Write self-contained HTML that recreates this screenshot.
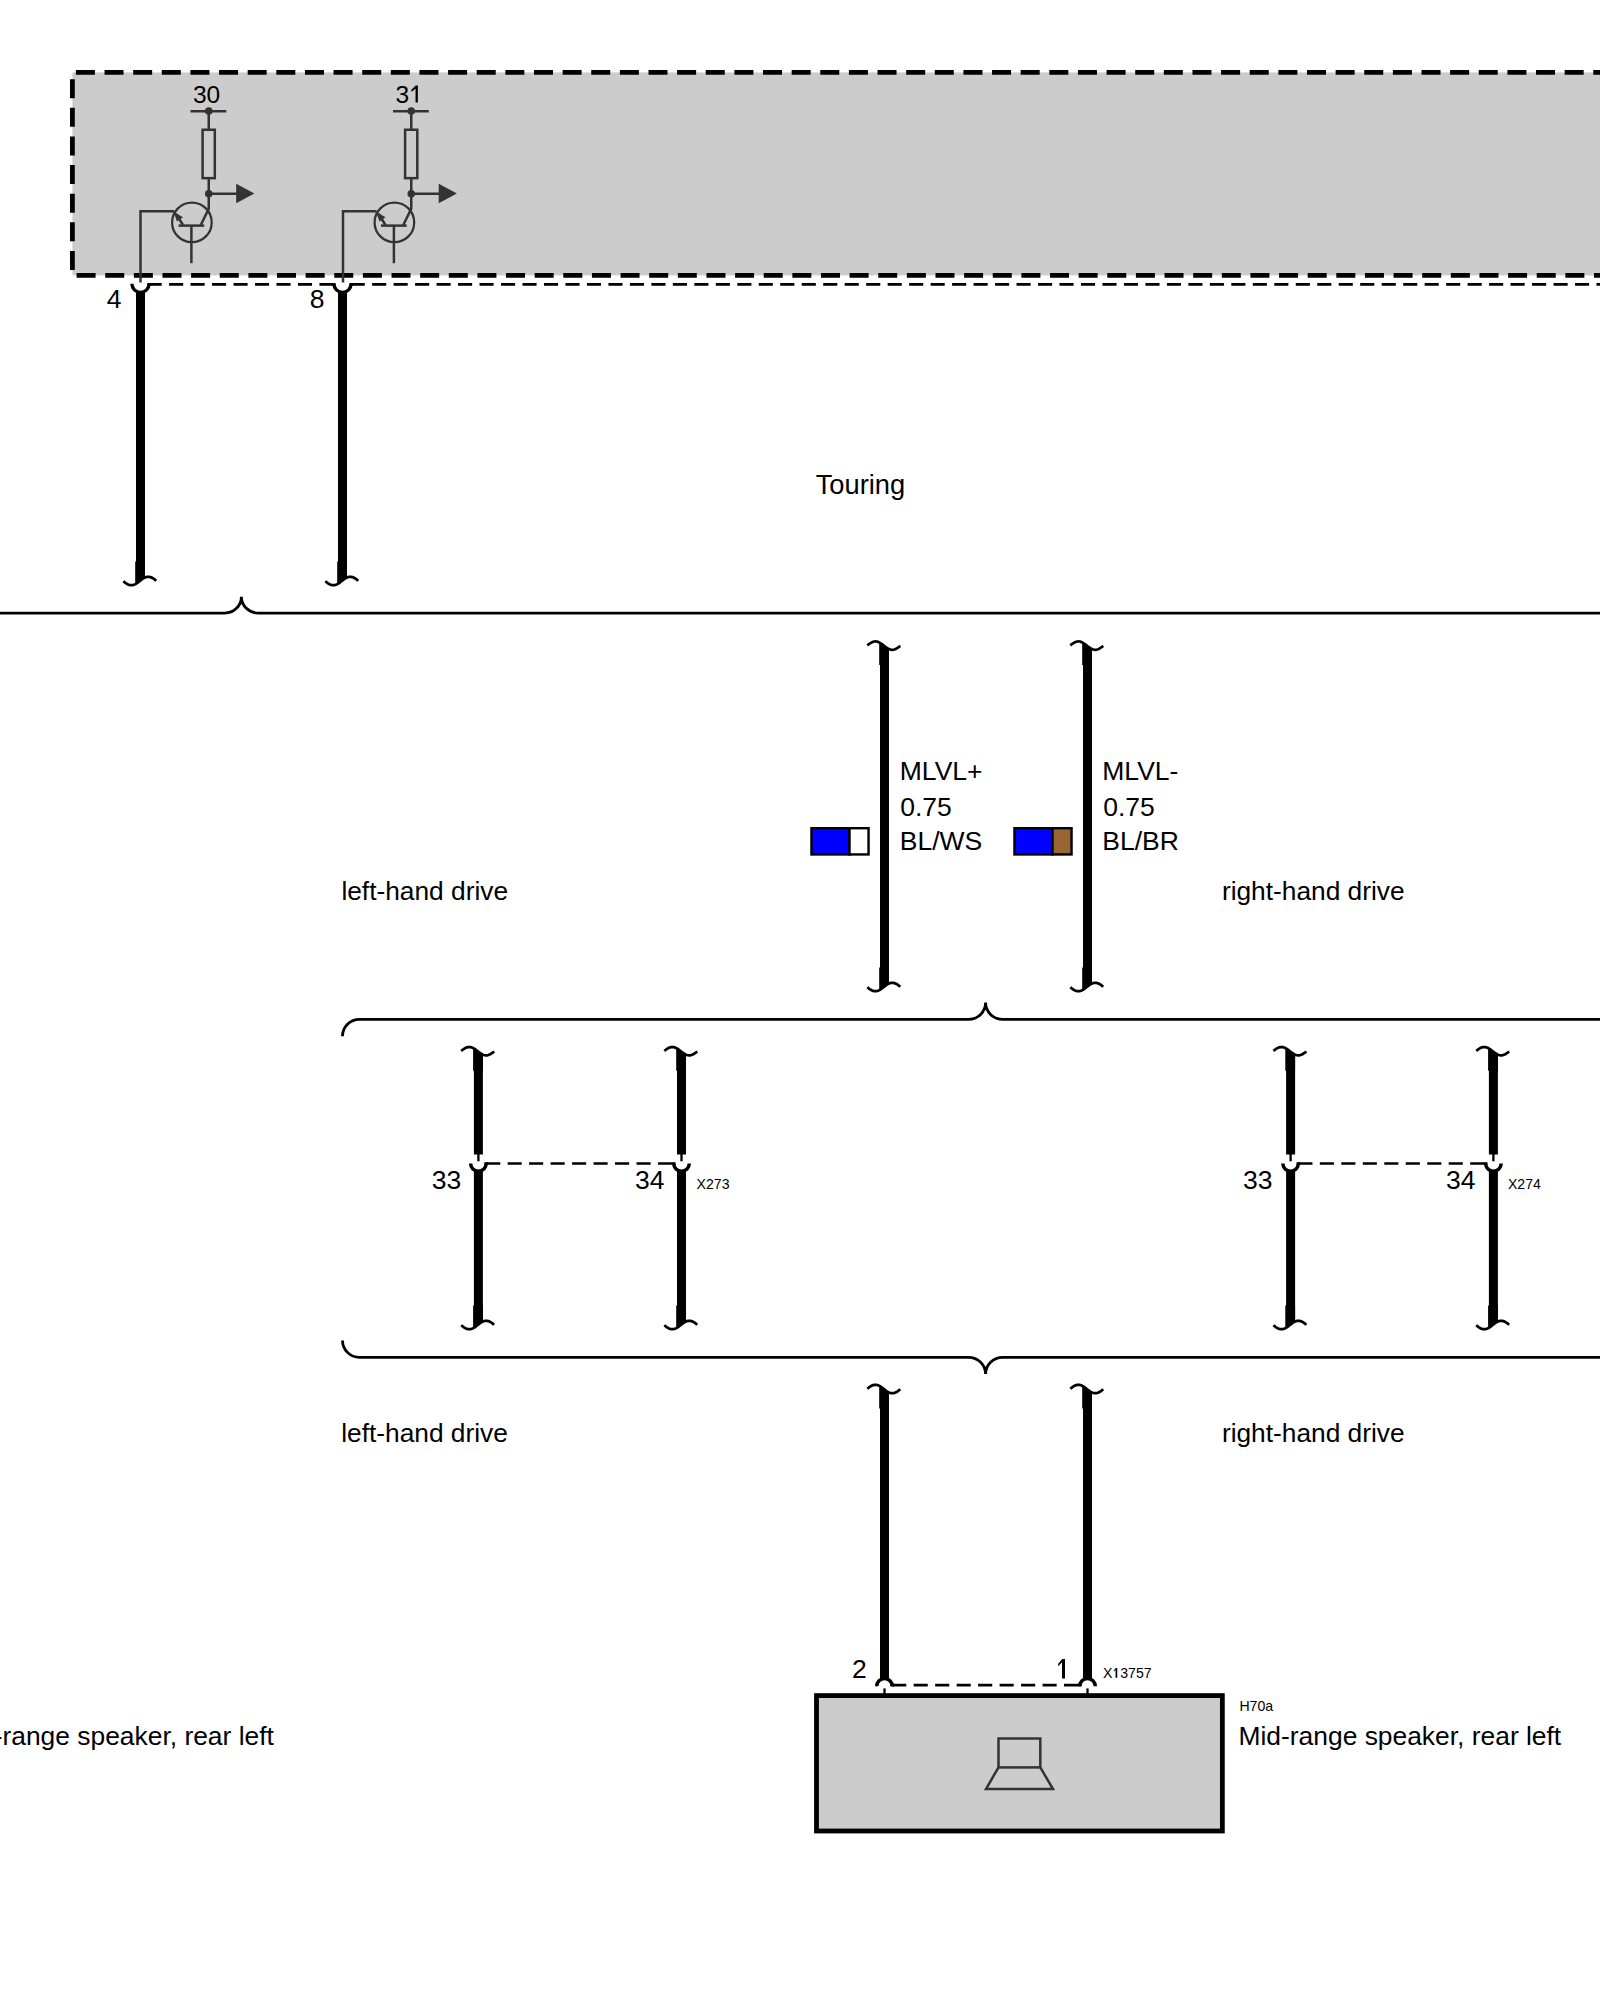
<!DOCTYPE html>
<html><head><meta charset="utf-8"><title>wiring</title>
<style>html,body{margin:0;padding:0;background:#fff;overflow:hidden}svg{display:block}text{font-family:"Liberation Sans",sans-serif;fill:#000}</style></head><body>
<svg width="1600" height="2000" viewBox="0 0 1600 2000">
<rect x="0" y="0" width="1600" height="2000" fill="#fff"/>
<rect x="72.4" y="72.4" width="1600" height="203" fill="#cccccc"/>
<g stroke="#000" stroke-width="4.8" fill="none" stroke-dasharray="19 9.63">
<path d="M72.4,72.4 H1620" stroke-dashoffset="-3.5"/>
<path d="M72.4,275.4 H1620" stroke-dashoffset="-4.2"/>
<path d="M72.4,72.4 V275.4" stroke-dashoffset="-6.8"/>
</g>
<g transform="translate(0,0)">
<text x="192.9" y="102.8" font-size="24.5">30</text>
<g stroke="#333" stroke-width="2.5" fill="none">
<path d="M190.5,111.3 H226.3"/>
<path d="M208.75,111.3 V129.75 M208.75,178.15 V208.7 L200.8,225"/>
<rect x="202.6" y="129.75" width="12.2" height="48.4"/>
<path d="M208.75,193.75 H238"/>
<circle cx="191.9" cy="222.4" r="19.8" stroke-width="2.25"/>
<path d="M178.5,225.6 H204.2"/>
<path d="M191.4,225.6 V263.2"/>
<path d="M183,225 L176,214"/>
<path d="M174,211.3 H140.5 V282.5"/>
</g>
<g fill="#333">
<rect x="178.5" y="111.3" width="0" height="0"/>
<circle cx="208.75" cy="111.1" r="3.8"/>
<circle cx="208.75" cy="193.75" r="3.8"/>
<path d="M236.2,183.8 L254.4,193.6 L236.2,203.2 Z"/>
<path d="M173.6,211.8 L183,217.3 L177,221.4 Z"/>
</g></g>
<g transform="translate(202.5,0)">
<text x="192.9" y="102.8" font-size="24.5">3</text>
<path d="M215.35,85.60 L215.35,102.60 L213.05,102.60 L213.05,88.49 L208.90,91.89 L208.90,89.68 L213.25,85.60 Z" fill="#000"/>
<g stroke="#333" stroke-width="2.5" fill="none">
<path d="M190.5,111.3 H226.3"/>
<path d="M208.75,111.3 V129.75 M208.75,178.15 V208.7 L200.8,225"/>
<rect x="202.6" y="129.75" width="12.2" height="48.4"/>
<path d="M208.75,193.75 H238"/>
<circle cx="191.9" cy="222.4" r="19.8" stroke-width="2.25"/>
<path d="M178.5,225.6 H204.2"/>
<path d="M191.4,225.6 V263.2"/>
<path d="M183,225 L176,214"/>
<path d="M174,211.3 H140.5 V282.5"/>
</g>
<g fill="#333">
<rect x="178.5" y="111.3" width="0" height="0"/>
<circle cx="208.75" cy="111.1" r="3.8"/>
<circle cx="208.75" cy="193.75" r="3.8"/>
<path d="M236.2,183.8 L254.4,193.6 L236.2,203.2 Z"/>
<path d="M173.6,211.8 L183,217.3 L177,221.4 Z"/>
</g></g>
<text x="106.7" y="307.8" font-size="26.5">4</text>
<text x="309.7" y="307.8" font-size="26.5">8</text>
<path d="M131.9,283.8 A8.6,8.6 0 0 0 149.1,283.8" stroke="#000" stroke-width="3.3" fill="none"/><path d="M147.45,284.4 H151.1" stroke="#000" stroke-width="2.6"/>
<path d="M333.9,283.8 A8.6,8.6 0 0 0 351.1,283.8" stroke="#000" stroke-width="3.3" fill="none"/><path d="M349.45000000000005,284.4 H353.1" stroke="#000" stroke-width="2.6"/><path d="M331.9,284.4 H335.54999999999995" stroke="#000" stroke-width="2.6"/>
<g stroke="#000" stroke-width="2.6" fill="none" stroke-dasharray="14.1 7.38">
<path d="M147.6,284.4 H333.9"/>
<path d="M350.65,284.4 H1620"/>
</g>
<path d="M140.5,292 V577" stroke="#000" stroke-width="9" fill="none"/>
<path d="M342.5,292 V577" stroke="#000" stroke-width="9" fill="none"/>
<path d="M123.30,581.27 L124.48,582.18 L125.66,583.03 L126.84,583.78 L128.01,584.40 L129.19,584.86 L130.37,585.13 L131.55,585.20 L132.73,585.07 L133.91,584.74 L135.09,584.23 L136.26,583.57 L137.44,582.79 L138.62,581.92 L139.80,581.00 L140.98,580.08 L142.16,579.21 L143.34,578.43 L144.51,577.77 L145.69,577.26 L146.87,576.93 L148.05,576.80 L149.23,576.87 L150.41,577.14 L151.59,577.60 L152.76,578.22 L153.94,578.97 L155.12,579.82 L156.30,580.73" stroke="#000" stroke-width="2.7" fill="none"/>
<path d="M135.20,561.50 L145.00,561.50 L145.00,577.54 L144.02,578.03 L143.04,578.61 L142.06,579.28 L141.08,580.01 L140.10,580.77 L139.12,581.53 L138.14,582.28 L137.16,582.98 L136.18,583.62 L135.20,584.18 Z" fill="#000"/>
<path d="M325.30,581.27 L326.48,582.18 L327.66,583.03 L328.84,583.78 L330.01,584.40 L331.19,584.86 L332.37,585.13 L333.55,585.20 L334.73,585.07 L335.91,584.74 L337.09,584.23 L338.26,583.57 L339.44,582.79 L340.62,581.92 L341.80,581.00 L342.98,580.08 L344.16,579.21 L345.34,578.43 L346.51,577.77 L347.69,577.26 L348.87,576.93 L350.05,576.80 L351.23,576.87 L352.41,577.14 L353.59,577.60 L354.76,578.22 L355.94,578.97 L357.12,579.82 L358.30,580.73" stroke="#000" stroke-width="2.7" fill="none"/>
<path d="M337.20,561.50 L347.00,561.50 L347.00,577.54 L346.02,578.03 L345.04,578.61 L344.06,579.28 L343.08,580.01 L342.10,580.77 L341.12,581.53 L340.14,582.28 L339.16,582.98 L338.18,583.62 L337.20,584.18 Z" fill="#000"/>
<text x="815.7" y="493.75" font-size="27.3">Touring</text>
<g stroke="#000" stroke-width="2.8" fill="none">
<path d="M-5,613.1 H224.6 A16.8,16.3 0 0 0 241.4,596.8 A16.8,16.3 0 0 0 258.2,613.1 H1620"/>
<path d="M342.5,1036.3 A16.9,17 0 0 1 359.4,1019.3 H968.6 A17,16.8 0 0 0 985.6,1002.5 A17,16.8 0 0 0 1002.6,1019.3 H1620"/>
<path d="M342.5,1340.5 A16.9,16.8 0 0 0 359.4,1357.3 H968.6 A17,16.8 0 0 1 985.6,1374.1 A17,16.8 0 0 1 1002.6,1357.3 H1620"/>
</g>
<path d="M884.5,649.6 V983" stroke="#000" stroke-width="9" fill="none"/>
<path d="M867.30,645.33 L868.48,644.42 L869.66,643.57 L870.84,642.82 L872.01,642.20 L873.19,641.74 L874.37,641.47 L875.55,641.40 L876.73,641.53 L877.91,641.86 L879.09,642.37 L880.26,643.03 L881.44,643.81 L882.62,644.68 L883.80,645.60 L884.98,646.52 L886.16,647.39 L887.34,648.17 L888.51,648.83 L889.69,649.34 L890.87,649.67 L892.05,649.80 L893.23,649.73 L894.41,649.46 L895.59,649.00 L896.76,648.38 L897.94,647.63 L899.12,646.78 L900.30,645.87" stroke="#000" stroke-width="2.7" fill="none"/>
<path d="M879.20,642.42 L880.18,642.98 L881.16,643.62 L882.14,644.32 L883.12,645.07 L884.10,645.83 L885.08,646.59 L886.06,647.32 L887.04,647.99 L888.02,648.57 L889.00,649.06 L889.00,665.10 L879.20,665.10 Z" fill="#000"/>
<path d="M867.30,987.27 L868.48,988.18 L869.66,989.03 L870.84,989.78 L872.01,990.40 L873.19,990.86 L874.37,991.13 L875.55,991.20 L876.73,991.07 L877.91,990.74 L879.09,990.23 L880.26,989.57 L881.44,988.79 L882.62,987.92 L883.80,987.00 L884.98,986.08 L886.16,985.21 L887.34,984.43 L888.51,983.77 L889.69,983.26 L890.87,982.93 L892.05,982.80 L893.23,982.87 L894.41,983.14 L895.59,983.60 L896.76,984.22 L897.94,984.97 L899.12,985.82 L900.30,986.73" stroke="#000" stroke-width="2.7" fill="none"/>
<path d="M879.20,967.50 L889.00,967.50 L889.00,983.54 L888.02,984.03 L887.04,984.61 L886.06,985.28 L885.08,986.01 L884.10,986.77 L883.12,987.53 L882.14,988.28 L881.16,988.98 L880.18,989.62 L879.20,990.18 Z" fill="#000"/>
<path d="M1087.5,649.6 V983" stroke="#000" stroke-width="9" fill="none"/>
<path d="M1070.30,645.33 L1071.48,644.42 L1072.66,643.57 L1073.84,642.82 L1075.01,642.20 L1076.19,641.74 L1077.37,641.47 L1078.55,641.40 L1079.73,641.53 L1080.91,641.86 L1082.09,642.37 L1083.26,643.03 L1084.44,643.81 L1085.62,644.68 L1086.80,645.60 L1087.98,646.52 L1089.16,647.39 L1090.34,648.17 L1091.51,648.83 L1092.69,649.34 L1093.87,649.67 L1095.05,649.80 L1096.23,649.73 L1097.41,649.46 L1098.59,649.00 L1099.76,648.38 L1100.94,647.63 L1102.12,646.78 L1103.30,645.87" stroke="#000" stroke-width="2.7" fill="none"/>
<path d="M1082.20,642.42 L1083.18,642.98 L1084.16,643.62 L1085.14,644.32 L1086.12,645.07 L1087.10,645.83 L1088.08,646.59 L1089.06,647.32 L1090.04,647.99 L1091.02,648.57 L1092.00,649.06 L1092.00,665.10 L1082.20,665.10 Z" fill="#000"/>
<path d="M1070.30,987.27 L1071.48,988.18 L1072.66,989.03 L1073.84,989.78 L1075.01,990.40 L1076.19,990.86 L1077.37,991.13 L1078.55,991.20 L1079.73,991.07 L1080.91,990.74 L1082.09,990.23 L1083.26,989.57 L1084.44,988.79 L1085.62,987.92 L1086.80,987.00 L1087.98,986.08 L1089.16,985.21 L1090.34,984.43 L1091.51,983.77 L1092.69,983.26 L1093.87,982.93 L1095.05,982.80 L1096.23,982.87 L1097.41,983.14 L1098.59,983.60 L1099.76,984.22 L1100.94,984.97 L1102.12,985.82 L1103.30,986.73" stroke="#000" stroke-width="2.7" fill="none"/>
<path d="M1082.20,967.50 L1092.00,967.50 L1092.00,983.54 L1091.02,984.03 L1090.04,984.61 L1089.06,985.28 L1088.08,986.01 L1087.10,986.77 L1086.12,987.53 L1085.14,988.28 L1084.16,988.98 L1083.18,989.62 L1082.20,990.18 Z" fill="#000"/>
<g stroke="#000" stroke-width="2.4">
<rect x="811.45" y="828.2" width="38.05" height="26.25" fill="#0000ff"/>
<rect x="849.5" y="828.2" width="19.05" height="26.25" fill="#ffffff"/>
<rect x="1014.45" y="828.2" width="38.05" height="26.25" fill="#0000ff"/>
<rect x="1052.5" y="828.2" width="19.05" height="26.25" fill="#996633"/>
</g>
<g font-size="26.5">
<text x="899.8" y="780">MLVL+</text><text x="900.2" y="815.6">0.75</text><text x="899.8" y="850">BL/WS</text>
<text x="1102.3" y="780">MLVL-</text><text x="1103.2" y="815.6">0.75</text><text x="1102.3" y="850">BL/BR</text>
</g>
<g font-size="26.3">
<text x="341.4" y="899.9">left-hand drive</text><text x="1221.9" y="900">right-hand drive</text>
<text x="341.2" y="1441.9">left-hand drive</text><text x="1221.9" y="1441.9">right-hand drive</text>
</g>
<path d="M478.4,1055.2 V1154.4" stroke="#000" stroke-width="9" fill="none"/>
<path d="M478.4,1171.4 V1321" stroke="#000" stroke-width="9" fill="none"/>
<path d="M461.20,1050.93 L462.38,1050.02 L463.56,1049.17 L464.74,1048.42 L465.91,1047.80 L467.09,1047.34 L468.27,1047.07 L469.45,1047.00 L470.63,1047.13 L471.81,1047.46 L472.99,1047.97 L474.16,1048.63 L475.34,1049.41 L476.52,1050.28 L477.70,1051.20 L478.88,1052.12 L480.06,1052.99 L481.24,1053.77 L482.41,1054.43 L483.59,1054.94 L484.77,1055.27 L485.95,1055.40 L487.13,1055.33 L488.31,1055.06 L489.49,1054.60 L490.66,1053.98 L491.84,1053.23 L493.02,1052.38 L494.20,1051.47" stroke="#000" stroke-width="2.7" fill="none"/>
<path d="M473.10,1048.02 L474.08,1048.58 L475.06,1049.22 L476.04,1049.92 L477.02,1050.67 L478.00,1051.43 L478.98,1052.19 L479.96,1052.92 L480.94,1053.59 L481.92,1054.17 L482.90,1054.66 L482.90,1070.70 L473.10,1070.70 Z" fill="#000"/>
<path d="M461.20,1325.27 L462.38,1326.18 L463.56,1327.03 L464.74,1327.78 L465.91,1328.40 L467.09,1328.86 L468.27,1329.13 L469.45,1329.20 L470.63,1329.07 L471.81,1328.74 L472.99,1328.23 L474.16,1327.57 L475.34,1326.79 L476.52,1325.92 L477.70,1325.00 L478.88,1324.08 L480.06,1323.21 L481.24,1322.43 L482.41,1321.77 L483.59,1321.26 L484.77,1320.93 L485.95,1320.80 L487.13,1320.87 L488.31,1321.14 L489.49,1321.60 L490.66,1322.22 L491.84,1322.97 L493.02,1323.82 L494.20,1324.73" stroke="#000" stroke-width="2.7" fill="none"/>
<path d="M473.10,1305.50 L482.90,1305.50 L482.90,1321.54 L481.92,1322.03 L480.94,1322.61 L479.96,1323.28 L478.98,1324.01 L478.00,1324.77 L477.02,1325.53 L476.04,1326.28 L475.06,1326.98 L474.08,1327.62 L473.10,1328.18 Z" fill="#000"/>
<path d="M478.4,1154 V1161.3" stroke="#000" stroke-width="2.3"/>
<path d="M470.65,1163.5 A7.75,7.75 0 0 0 486.15,1163.5" stroke="#000" stroke-width="3.5" fill="none"/><path d="M484.4,1163.5 H488.15" stroke="#000" stroke-width="2.6"/>
<path d="M681.5,1055.2 V1154.4" stroke="#000" stroke-width="9" fill="none"/>
<path d="M681.5,1171.4 V1321" stroke="#000" stroke-width="9" fill="none"/>
<path d="M664.30,1050.93 L665.48,1050.02 L666.66,1049.17 L667.84,1048.42 L669.01,1047.80 L670.19,1047.34 L671.37,1047.07 L672.55,1047.00 L673.73,1047.13 L674.91,1047.46 L676.09,1047.97 L677.26,1048.63 L678.44,1049.41 L679.62,1050.28 L680.80,1051.20 L681.98,1052.12 L683.16,1052.99 L684.34,1053.77 L685.51,1054.43 L686.69,1054.94 L687.87,1055.27 L689.05,1055.40 L690.23,1055.33 L691.41,1055.06 L692.59,1054.60 L693.76,1053.98 L694.94,1053.23 L696.12,1052.38 L697.30,1051.47" stroke="#000" stroke-width="2.7" fill="none"/>
<path d="M676.20,1048.02 L677.18,1048.58 L678.16,1049.22 L679.14,1049.92 L680.12,1050.67 L681.10,1051.43 L682.08,1052.19 L683.06,1052.92 L684.04,1053.59 L685.02,1054.17 L686.00,1054.66 L686.00,1070.70 L676.20,1070.70 Z" fill="#000"/>
<path d="M664.30,1325.27 L665.48,1326.18 L666.66,1327.03 L667.84,1327.78 L669.01,1328.40 L670.19,1328.86 L671.37,1329.13 L672.55,1329.20 L673.73,1329.07 L674.91,1328.74 L676.09,1328.23 L677.26,1327.57 L678.44,1326.79 L679.62,1325.92 L680.80,1325.00 L681.98,1324.08 L683.16,1323.21 L684.34,1322.43 L685.51,1321.77 L686.69,1321.26 L687.87,1320.93 L689.05,1320.80 L690.23,1320.87 L691.41,1321.14 L692.59,1321.60 L693.76,1322.22 L694.94,1322.97 L696.12,1323.82 L697.30,1324.73" stroke="#000" stroke-width="2.7" fill="none"/>
<path d="M676.20,1305.50 L686.00,1305.50 L686.00,1321.54 L685.02,1322.03 L684.04,1322.61 L683.06,1323.28 L682.08,1324.01 L681.10,1324.77 L680.12,1325.53 L679.14,1326.28 L678.16,1326.98 L677.18,1327.62 L676.20,1328.18 Z" fill="#000"/>
<path d="M681.5,1154 V1161.3" stroke="#000" stroke-width="2.3"/>
<path d="M673.75,1163.5 A7.75,7.75 0 0 0 689.25,1163.5" stroke="#000" stroke-width="3.5" fill="none"/><path d="M671.75,1163.5 H675.5" stroke="#000" stroke-width="2.6"/>
<path d="M1290.6,1055.2 V1154.4" stroke="#000" stroke-width="9" fill="none"/>
<path d="M1290.6,1171.4 V1321" stroke="#000" stroke-width="9" fill="none"/>
<path d="M1273.40,1050.93 L1274.58,1050.02 L1275.76,1049.17 L1276.94,1048.42 L1278.11,1047.80 L1279.29,1047.34 L1280.47,1047.07 L1281.65,1047.00 L1282.83,1047.13 L1284.01,1047.46 L1285.19,1047.97 L1286.36,1048.63 L1287.54,1049.41 L1288.72,1050.28 L1289.90,1051.20 L1291.08,1052.12 L1292.26,1052.99 L1293.44,1053.77 L1294.61,1054.43 L1295.79,1054.94 L1296.97,1055.27 L1298.15,1055.40 L1299.33,1055.33 L1300.51,1055.06 L1301.69,1054.60 L1302.86,1053.98 L1304.04,1053.23 L1305.22,1052.38 L1306.40,1051.47" stroke="#000" stroke-width="2.7" fill="none"/>
<path d="M1285.30,1048.02 L1286.28,1048.58 L1287.26,1049.22 L1288.24,1049.92 L1289.22,1050.67 L1290.20,1051.43 L1291.18,1052.19 L1292.16,1052.92 L1293.14,1053.59 L1294.12,1054.17 L1295.10,1054.66 L1295.10,1070.70 L1285.30,1070.70 Z" fill="#000"/>
<path d="M1273.40,1325.27 L1274.58,1326.18 L1275.76,1327.03 L1276.94,1327.78 L1278.11,1328.40 L1279.29,1328.86 L1280.47,1329.13 L1281.65,1329.20 L1282.83,1329.07 L1284.01,1328.74 L1285.19,1328.23 L1286.36,1327.57 L1287.54,1326.79 L1288.72,1325.92 L1289.90,1325.00 L1291.08,1324.08 L1292.26,1323.21 L1293.44,1322.43 L1294.61,1321.77 L1295.79,1321.26 L1296.97,1320.93 L1298.15,1320.80 L1299.33,1320.87 L1300.51,1321.14 L1301.69,1321.60 L1302.86,1322.22 L1304.04,1322.97 L1305.22,1323.82 L1306.40,1324.73" stroke="#000" stroke-width="2.7" fill="none"/>
<path d="M1285.30,1305.50 L1295.10,1305.50 L1295.10,1321.54 L1294.12,1322.03 L1293.14,1322.61 L1292.16,1323.28 L1291.18,1324.01 L1290.20,1324.77 L1289.22,1325.53 L1288.24,1326.28 L1287.26,1326.98 L1286.28,1327.62 L1285.30,1328.18 Z" fill="#000"/>
<path d="M1290.6,1154 V1161.3" stroke="#000" stroke-width="2.3"/>
<path d="M1282.85,1163.5 A7.75,7.75 0 0 0 1298.35,1163.5" stroke="#000" stroke-width="3.5" fill="none"/><path d="M1296.6,1163.5 H1300.35" stroke="#000" stroke-width="2.6"/>
<path d="M1493.4,1055.2 V1154.4" stroke="#000" stroke-width="9" fill="none"/>
<path d="M1493.4,1171.4 V1321" stroke="#000" stroke-width="9" fill="none"/>
<path d="M1476.20,1050.93 L1477.38,1050.02 L1478.56,1049.17 L1479.74,1048.42 L1480.91,1047.80 L1482.09,1047.34 L1483.27,1047.07 L1484.45,1047.00 L1485.63,1047.13 L1486.81,1047.46 L1487.99,1047.97 L1489.16,1048.63 L1490.34,1049.41 L1491.52,1050.28 L1492.70,1051.20 L1493.88,1052.12 L1495.06,1052.99 L1496.24,1053.77 L1497.41,1054.43 L1498.59,1054.94 L1499.77,1055.27 L1500.95,1055.40 L1502.13,1055.33 L1503.31,1055.06 L1504.49,1054.60 L1505.66,1053.98 L1506.84,1053.23 L1508.02,1052.38 L1509.20,1051.47" stroke="#000" stroke-width="2.7" fill="none"/>
<path d="M1488.10,1048.02 L1489.08,1048.58 L1490.06,1049.22 L1491.04,1049.92 L1492.02,1050.67 L1493.00,1051.43 L1493.98,1052.19 L1494.96,1052.92 L1495.94,1053.59 L1496.92,1054.17 L1497.90,1054.66 L1497.90,1070.70 L1488.10,1070.70 Z" fill="#000"/>
<path d="M1476.20,1325.27 L1477.38,1326.18 L1478.56,1327.03 L1479.74,1327.78 L1480.91,1328.40 L1482.09,1328.86 L1483.27,1329.13 L1484.45,1329.20 L1485.63,1329.07 L1486.81,1328.74 L1487.99,1328.23 L1489.16,1327.57 L1490.34,1326.79 L1491.52,1325.92 L1492.70,1325.00 L1493.88,1324.08 L1495.06,1323.21 L1496.24,1322.43 L1497.41,1321.77 L1498.59,1321.26 L1499.77,1320.93 L1500.95,1320.80 L1502.13,1320.87 L1503.31,1321.14 L1504.49,1321.60 L1505.66,1322.22 L1506.84,1322.97 L1508.02,1323.82 L1509.20,1324.73" stroke="#000" stroke-width="2.7" fill="none"/>
<path d="M1488.10,1305.50 L1497.90,1305.50 L1497.90,1321.54 L1496.92,1322.03 L1495.94,1322.61 L1494.96,1323.28 L1493.98,1324.01 L1493.00,1324.77 L1492.02,1325.53 L1491.04,1326.28 L1490.06,1326.98 L1489.08,1327.62 L1488.10,1328.18 Z" fill="#000"/>
<path d="M1493.4,1154 V1161.3" stroke="#000" stroke-width="2.3"/>
<path d="M1485.65,1163.5 A7.75,7.75 0 0 0 1501.15,1163.5" stroke="#000" stroke-width="3.5" fill="none"/><path d="M1483.65,1163.5 H1487.4" stroke="#000" stroke-width="2.6"/>
<g stroke="#000" stroke-width="2.6" fill="none" stroke-dasharray="14.1 7.38">
<path d="M486.15,1163.5 H673.75"/>
<path d="M1298.35,1163.5 H1485.65"/>
</g>
<g font-size="26.5"><text x="431.7" y="1189">33</text><text x="635.1" y="1189">34</text><text x="1242.9" y="1189">33</text><text x="1445.9" y="1189">34</text></g>
<g font-size="14.1"><text x="696.6" y="1189">X273</text><text x="1507.9" y="1189">X274</text></g>
<path d="M884.5,1393 V1678.6" stroke="#000" stroke-width="9" fill="none"/>
<path d="M867.30,1388.73 L868.48,1387.82 L869.66,1386.97 L870.84,1386.22 L872.01,1385.60 L873.19,1385.14 L874.37,1384.87 L875.55,1384.80 L876.73,1384.93 L877.91,1385.26 L879.09,1385.77 L880.26,1386.43 L881.44,1387.21 L882.62,1388.08 L883.80,1389.00 L884.98,1389.92 L886.16,1390.79 L887.34,1391.57 L888.51,1392.23 L889.69,1392.74 L890.87,1393.07 L892.05,1393.20 L893.23,1393.13 L894.41,1392.86 L895.59,1392.40 L896.76,1391.78 L897.94,1391.03 L899.12,1390.18 L900.30,1389.27" stroke="#000" stroke-width="2.7" fill="none"/>
<path d="M879.20,1385.82 L880.18,1386.38 L881.16,1387.02 L882.14,1387.72 L883.12,1388.47 L884.10,1389.23 L885.08,1389.99 L886.06,1390.72 L887.04,1391.39 L888.02,1391.97 L889.00,1392.46 L889.00,1408.50 L879.20,1408.50 Z" fill="#000"/>
<path d="M884.5,1688.4 V1695" stroke="#000" stroke-width="2.3"/>
<path d="M876.75,1686.2 A7.75,7.75 0 0 1 892.25,1686.2" stroke="#000" stroke-width="3.5" fill="none"/><path d="M890.5,1685.1 H894.25" stroke="#000" stroke-width="2.6"/>
<path d="M1087.5,1393 V1678.6" stroke="#000" stroke-width="9" fill="none"/>
<path d="M1070.30,1388.73 L1071.48,1387.82 L1072.66,1386.97 L1073.84,1386.22 L1075.01,1385.60 L1076.19,1385.14 L1077.37,1384.87 L1078.55,1384.80 L1079.73,1384.93 L1080.91,1385.26 L1082.09,1385.77 L1083.26,1386.43 L1084.44,1387.21 L1085.62,1388.08 L1086.80,1389.00 L1087.98,1389.92 L1089.16,1390.79 L1090.34,1391.57 L1091.51,1392.23 L1092.69,1392.74 L1093.87,1393.07 L1095.05,1393.20 L1096.23,1393.13 L1097.41,1392.86 L1098.59,1392.40 L1099.76,1391.78 L1100.94,1391.03 L1102.12,1390.18 L1103.30,1389.27" stroke="#000" stroke-width="2.7" fill="none"/>
<path d="M1082.20,1385.82 L1083.18,1386.38 L1084.16,1387.02 L1085.14,1387.72 L1086.12,1388.47 L1087.10,1389.23 L1088.08,1389.99 L1089.06,1390.72 L1090.04,1391.39 L1091.02,1391.97 L1092.00,1392.46 L1092.00,1408.50 L1082.20,1408.50 Z" fill="#000"/>
<path d="M1087.5,1688.4 V1695" stroke="#000" stroke-width="2.3"/>
<path d="M1079.75,1686.2 A7.75,7.75 0 0 1 1095.25,1686.2" stroke="#000" stroke-width="3.5" fill="none"/><path d="M1077.75,1685.1 H1081.5" stroke="#000" stroke-width="2.6"/>
<path d="M892.2,1685.1 H1079.8" stroke="#000" stroke-width="2.6" fill="none" stroke-dasharray="14.1 7.38"/>
<rect x="816.5" y="1695.6" width="405.85" height="135.4" fill="#cccccc" stroke="#000" stroke-width="4.8"/>
<g stroke="#333" stroke-width="2.5" fill="none"><rect x="998.5" y="1738.5" width="41.8" height="28.9"/><path d="M998.5,1767.4 L986,1789 H1053 L1040.3,1767.4"/></g>
<g font-size="26.5"><text x="852.1" y="1677.9">2</text></g><path d="M1065.00,1659.00 L1065.00,1678.40 L1062.00,1678.40 L1062.00,1662.30 L1058.20,1666.18 L1058.20,1663.66 L1062.20,1659.00 Z" fill="#000"/><g></g>
<g font-size="14.1"><text x="1103" y="1677.75">X</text><text x="1120.25" y="1677.75">3757</text></g><path d="M1117.25,1668.10 L1117.25,1677.75 L1115.55,1677.75 L1115.55,1669.74 L1113.80,1671.67 L1113.80,1670.42 L1115.75,1668.10 Z" fill="#000"/><g font-size="14.1"><text x="1239.4" y="1711">H70a</text></g>
<g font-size="26.4"><text x="1238.5" y="1744.8">Mid-range speaker, rear left</text><text x="-48.85" y="1745">Mid-range speaker, rear left</text></g>
</svg></body></html>
